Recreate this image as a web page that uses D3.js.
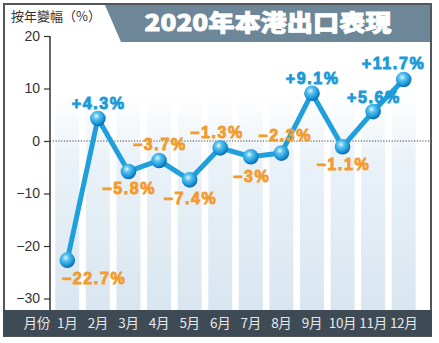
<!DOCTYPE html>
<html><head><meta charset="utf-8">
<script src="https://cdn.jsdelivr.net/npm/d3@7"></script>
<style>
html,body{margin:0;padding:0;background:#fff;}
svg{display:block;}
</style></head>
<body>
<svg id="c" width="439" height="343"></svg>
<script>
// ---- data ----
const months = ["1月","2月","3月","4月","5月","6月","7月","8月","9月","10月","11月","12月"];
const values = [-22.7, 4.3, -5.8, -3.7, -7.4, -1.3, -3, -2.3, 9.1, -1.1, 5.6, 11.7];
const valueLabels = ["−22.7%","+4.3%","−5.8%","−3.7%","−7.4%","−1.3%","−3%","−2.3%","+9.1%","−1.1%","+5.6%","+11.7%"];
const yTicks = [20, 10, 0, -10, -20, -30];
const title = "2020年本港出口表現";
const yTitle = "按年變幅（%）";
const xTitle = "月份";

// ---- layout (label offsets from point, px) ----
const labelOffsets = [[26,18],[0,-15],[0,17],[0,-16],[0,18],[-4,-16],[0,19],[3,-18],[0,-15],[0,17],[0,-14],[-11,-16]];

const svg = d3.select("#c");
const defs = svg.append("defs");

const x = d3.scaleBand().domain(months).range([52, 419]).padding(0);
const y = d3.scaleLinear().domain([-30, 20]).range([298.5, 36]);

// frame
svg.append("rect").attr("x",4).attr("y",4).attr("width",427).attr("height",332)
  .attr("fill","#fff").attr("stroke","#50565c").attr("stroke-width",2);

// banner
svg.append("path").attr("d","M105,5 L430,5 L430,42 L121,42 Z").attr("fill","#6d8798");
svg.append("text").attr("x",268).attr("y",31).attr("text-anchor","middle")
  .attr("font-family","'Noto Sans CJK TC','Noto Sans CJK SC',sans-serif").attr("font-weight",900)
  .attr("font-size",23).attr("fill","#fff").attr("stroke","#fff").attr("stroke-width",0.8)
  .attr("textLength",247).attr("lengthAdjust","spacingAndGlyphs").text(title);

svg.append("text").attr("x",11).attr("y",21)
  .attr("font-family","'Noto Sans CJK TC',sans-serif").attr("font-size",13).attr("fill","#333")
  .text(yTitle);

// stripes
const grad = defs.append("linearGradient").attr("id","sg").attr("x1",0).attr("y1",0).attr("x2",0).attr("y2",1);
grad.append("stop").attr("offset","0").attr("stop-color","#ffffff");
grad.append("stop").attr("offset","0.3").attr("stop-color","#eaf2f8");
grad.append("stop").attr("offset","1").attr("stop-color","#d9e6f0");
svg.append("g").selectAll("rect").data(months).join("rect")
  .attr("x",d=>x(d)+x.bandwidth()/2-12).attr("width",24)
  .attr("y",95).attr("height",215).attr("fill","url(#sg)");

// zero dotted line
svg.append("line").attr("x1",50).attr("x2",430).attr("y1",y(0)).attr("y2",y(0))
  .attr("stroke","#444").attr("stroke-width",1).attr("stroke-dasharray","1.2,1.6");

// y axis
const ax = svg.append("g").attr("transform","translate(50,0)")
  .call(d3.axisLeft(y).tickValues(yTicks).tickSize(6).tickPadding(4)
    .tickFormat(d=>d<0?"−"+Math.abs(d):d));
ax.select(".domain").remove();
ax.selectAll("line").attr("stroke","#333").attr("stroke-width",1.2);
ax.selectAll("text").attr("font-family","'Liberation Sans',Arial,sans-serif").attr("font-size",14).attr("fill","#333");
svg.append("line").attr("x1",50).attr("x2",50).attr("y1",y(20)).attr("y2",310)
  .attr("stroke","#333").attr("stroke-width",1.5);

// bottom bar
svg.append("rect").attr("x",3).attr("y",310).attr("width",429).attr("height",26).attr("fill","#3e4a54");
svg.append("text").attr("x",37).attr("y",328).attr("text-anchor","middle")
  .attr("font-family","'Noto Sans CJK TC',sans-serif").attr("font-size",13.5).attr("fill","#e6e9ec").text(xTitle);
svg.append("g").selectAll("text").data(months).join("text")
  .attr("x",d=>x(d)+x.bandwidth()/2).attr("y",328).attr("text-anchor","middle")
  .attr("font-family","'Noto Sans CJK TC',sans-serif").attr("font-size",13.5).attr("fill","#e6e9ec")
  .attr("letter-spacing",-0.3)
  .text(d=>d);

// line
const cx = (d,i)=>x(months[i])+x.bandwidth()/2;
svg.append("path").datum(values)
  .attr("d", d3.line().x(cx).y(d=>y(d)))
  .attr("fill","none").attr("stroke","#1f9fdc").attr("stroke-width",5).attr("stroke-linejoin","round");

// spheres
const rg = defs.append("radialGradient").attr("id","ball").attr("cx","0.4").attr("cy","0.35").attr("r","0.65");
rg.append("stop").attr("offset","0").attr("stop-color","#e8f8ff");
rg.append("stop").attr("offset","0.3").attr("stop-color","#5cc4f0");
rg.append("stop").attr("offset","0.75").attr("stop-color","#1a95d6");
rg.append("stop").attr("offset","1").attr("stop-color","#0d67a8");
svg.append("g").selectAll("circle").data(values).join("circle")
  .attr("cx",cx).attr("cy",d=>y(d)).attr("r",7.8).attr("fill","url(#ball)");

// value labels
svg.append("g").selectAll("text").data(values).join("text")
  .attr("x",(d,i)=>cx(d,i)+labelOffsets[i][0]+0.8)
  .attr("y",(d,i)=>y(d)+labelOffsets[i][1])
  .attr("dy","0.36em").attr("text-anchor","middle")
  .attr("font-family","'Liberation Sans',Arial,sans-serif").attr("font-weight","bold")
  .attr("font-size",16).attr("letter-spacing",1.6)
  .attr("fill",d=>d>=0?"#1b9ad8":"#f29b2e")
  .attr("stroke",d=>d>=0?"#1b9ad8":"#f29b2e").attr("stroke-width",0.9)
  .text((d,i)=>valueLabels[i]);
</script>
</body></html>
